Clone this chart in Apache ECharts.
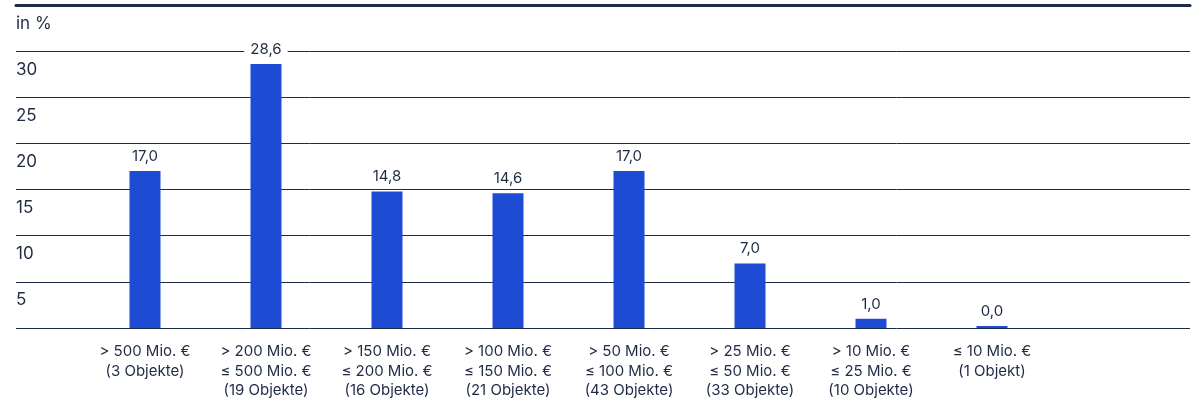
<!DOCTYPE html>
<html><head><meta charset="utf-8">
<script src="https://cdn.jsdelivr.net/npm/echarts@6/dist/echarts.min.js"></script>
<style>html,body{margin:0;padding:0;background:#fff}#c{width:1194px;height:400px}</style>
</head><body><div id="c"></div>
<script>
const categories = [
  '> 500 Mio. €\n(3 Objekte)',
  '> 200 Mio. €\n≤ 500 Mio. €\n(19 Objekte)',
  '> 150 Mio. €\n≤ 200 Mio. €\n(16 Objekte)',
  '> 100 Mio. €\n≤ 150 Mio. €\n(21 Objekte)',
  '> 50 Mio. €\n≤ 100 Mio. €\n(43 Objekte)',
  '> 25 Mio. €\n≤ 50 Mio. €\n(33 Objekte)',
  '> 10 Mio. €\n≤ 25 Mio. €\n(10 Objekte)',
  '≤ 10 Mio. €\n(1 Objekt)'
];
const values = [17.0, 28.6, 14.8, 14.6, 17.0, 7.0, 1.0, 0.0];
const unitLabel = 'in %';
const yMin = 0, yMax = 35, yStep = 5;

const font = 'Inter, "Open Sans", sans-serif';
const ink = '#1f2b45';
const chart = echarts.init(document.getElementById('c'));
chart.setOption({
  animation: false,
  grid: [
    {left: 16, right: 4, top: 5, bottom: 72, outerBoundsMode: 'none', containLabel: false},
    {left: 84.5, width: 968, top: 5, bottom: 72, outerBoundsMode: 'none', containLabel: false}
  ],
  xAxis: [
    {gridIndex: 0, type: 'value', position: 'top', min: 0, max: 1,
     axisLine: {show: true, onZero: false, lineStyle: {color: ink, width: 3}},
     axisTick: {show: false}, axisLabel: {show: false}, splitLine: {show: false}},
    {gridIndex: 1, type: 'category', data: categories,
     axisLine: {show: false}, axisTick: {show: false},
     axisLabel: {color: ink, fontFamily: font, fontSize: 15, lineHeight: 19.5, margin: 14, interval: 0}}
  ],
  yAxis: [
    {gridIndex: 0, type: 'value', min: yMin, max: yMax, interval: yStep,
     axisLine: {show: false}, axisTick: {show: false},
     splitLine: {show: true, lineStyle: {color: ink, width: 1}},
     axisLabel: {inside: true, margin: 0, align: 'left', verticalAlign: 'top', padding: [10, 0, 0, 0],
       color: ink, fontFamily: font, fontSize: 17,
       formatter: v => v === yMax ? unitLabel : (v === 0 ? '' : String(v))}},
    {gridIndex: 1, type: 'value', min: yMin, max: yMax, interval: yStep, show: false}
  ],
  series: [{
    type: 'bar', xAxisIndex: 1, yAxisIndex: 1, data: values,
    barWidth: 31, barMinHeight: 2,
    itemStyle: {color: '#1d4bd4'},
    label: {show: true, position: 'top', distance: 5, color: ink, fontFamily: font, fontSize: 15,
      backgroundColor: '#fff', padding: [2, 6],
      formatter: p => p.value.toFixed(1).replace('.', ',')}
  }]
});
</script></body></html>
